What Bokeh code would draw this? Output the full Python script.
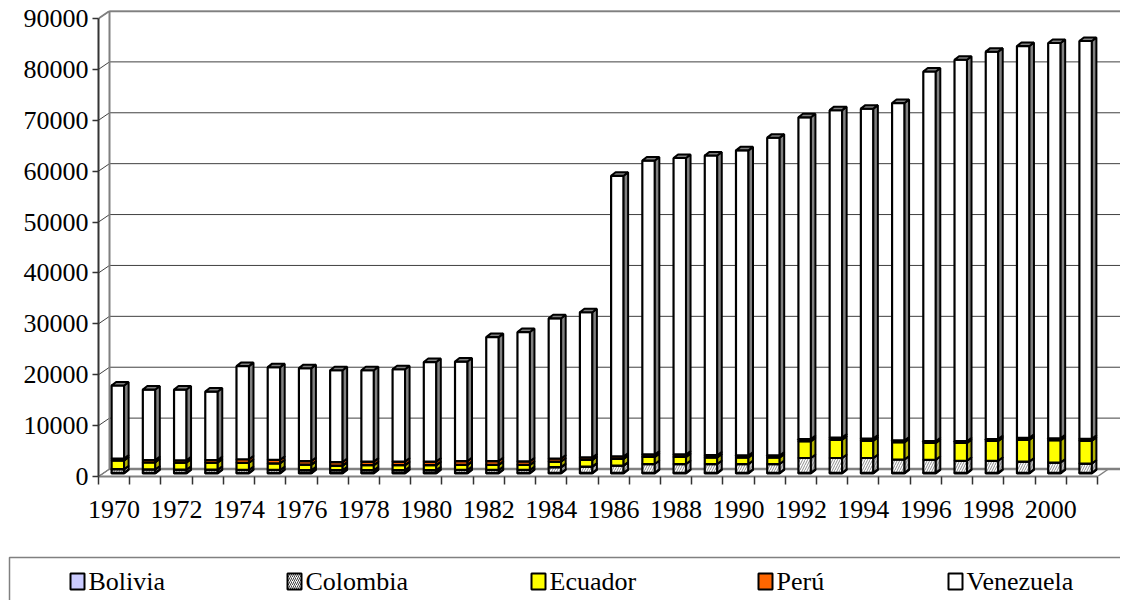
import numpy as np
from bokeh.plotting import figure
from bokeh.layouts import column
from bokeh.models import Range1d, FixedTicker, NumeralTickFormatter
from bokeh.core.properties import value
from bokeh.embed import file_html
from bokeh.resources import INLINE

# ---------------- data ----------------
years = list(range(1970, 2002))
bolivia = [150, 150, 150, 150, 150, 150, 150, 150, 150, 150, 150, 150, 150, 150, 150, 150,
           150, 150, 150, 150, 150, 150, 150, 150, 150, 150, 150, 150, 150, 150, 150, 150]
colombia = [700, 650, 600, 600, 550, 550, 500, 500, 500, 500, 500, 550, 550, 550, 1100, 1200,
            1400, 1700, 1700, 1700, 1700, 1700, 2900, 2900, 2900, 2600, 2550, 2350, 2350, 2200, 2000, 1800]
ecuador = [1700, 1400, 1400, 1400, 1400, 1300, 1100, 900, 1000, 1000, 1000, 1000, 1000, 1000, 1100, 1300,
           1300, 1400, 1400, 1300, 1300, 1300, 3300, 3600, 3400, 3400, 3300, 3500, 3900, 4300, 4400, 4500]
peru = [400, 450, 450, 500, 700, 700, 700, 700, 700, 700, 700, 750, 750, 700, 600, 500,
        500, 500, 500, 450, 400, 400, 400, 400, 400, 350, 350, 350, 350, 350, 350, 350]
venezuela = [14350, 13850, 13900, 13450, 18300, 18200, 18250, 18050, 17950, 18150, 19550, 19550,
             24350, 25400, 27550, 28550, 55150, 57750, 58250, 58900, 59950, 62450, 63250, 64350,
             64850, 66300, 72650, 74950, 76150, 77000, 77700, 78200]
series_names = ["Bolivia", "Colombia", "Ecuador", "Perú", "Venezuela"]
y_ticks = [0, 10000, 20000, 30000, 40000, 50000, 60000, 70000, 80000, 90000]
x_label_years = list(range(1970, 2001, 2))

# ---------------- styles ----------------
FONT = "Liberation Serif"
front_colors = ["#CCCCFF", "#FFFFFF", "#FFFF00", "#FF6600", "#FFFFFF"]
side_colors = ["#8F8FB3", "#C0C0C0", "#B3B300", "#B34700", "#808080"]
hatches = [None, "/", None, None, None]

W, H = 1120, 545
ML, MT, MB = 98, 10, 69
FW, FH = W - ML, H - MT - MB
n = len(years)
px_per_cat = 999.0 / n
x0 = -0.5
x1 = x0 + FW / px_per_cat
ymax_front = y_ticks[-1]
y1 = ymax_front * FH / 458.0
ux = (x1 - x0) / FW
uy = y1 / FH

p = figure(width=W, height=H, x_range=Range1d(x0, x1), y_range=Range1d(0, y1),
           output_backend="svg", toolbar_location=None,
           min_border_left=ML, min_border_right=0, min_border_top=MT, min_border_bottom=MB)
p.frame_align = False
p.outline_line_color = None
p.xgrid.visible = False
p.ygrid.visible = False
p.background_fill_color = "white"
p.border_fill_color = "white"

# walls
dxw, dyw = 11 * ux, 7.5 * uy
xb = x0 + dxw
p.segment(x0=[xb] * len(y_ticks), y0=[v + dyw for v in y_ticks],
          x1=[x1 + 1] * len(y_ticks), y1=[v + dyw for v in y_ticks],
          line_color="#404040", line_width=1)
p.segment(x0=[x0] * len(y_ticks), y0=y_ticks, x1=[xb] * len(y_ticks),
          y1=[v + dyw for v in y_ticks], line_color="#404040", line_width=1)
p.segment(x0=[xb], y0=[dyw], x1=[xb], y1=[ymax_front + dyw], line_color="#808080", line_width=2)
p.segment(x0=[xb], y0=[ymax_front + dyw], x1=[x1 + 1], y1=[ymax_front + dyw],
          line_color="#808080", line_width=2.5)
p.segment(x0=[x0], y0=[ymax_front], x1=[xb], y1=[ymax_front + dyw], line_color="#808080", line_width=2)
p.segment(x0=[x0], y0=[0], x1=[xb], y1=[dyw], line_color="#808080", line_width=1.5)
p.segment(x0=[n - 0.5], y0=[0], x1=[n - 0.5 + dxw], y1=[dyw], line_color="#808080", line_width=1.5)
p.segment(x0=[xb], y0=[dyw], x1=[x1 + 1], y1=[dyw], line_color="#808080", line_width=2.5)

# 3D stacked bars
c = np.arange(n, dtype=float)
xl = c - 2.5 * ux
xr = xl + 12.5 * ux
b0 = 3 * uy
ddx, ddy = 4.5 * ux, 3.5 * uy
cum = np.zeros(n)
for name, vals, fc, sc, h in zip(series_names, [bolivia, colombia, ecuador, peru, venezuela],
                                  front_colors, side_colors, hatches):
    v = np.array(vals, dtype=float)
    bot = cum + b0
    top = cum + v + b0
    hatch_kw = dict(hatch_pattern=h, hatch_color="#707070", hatch_scale=5, hatch_weight=0.8) if h else {}
    p.quad(left=xl, right=xr, bottom=bot, top=top, fill_color=fc, line_color="black",
           line_width=2.2, **hatch_kw)
    sxs = [[a, a + ddx, a + ddx, a] for a in xr]
    sys_ = [[b, b + ddy, t + ddy, t] for b, t in zip(bot, top)]
    p.patches(xs=sxs, ys=sys_, fill_color=sc, line_color="black", line_width=2, **hatch_kw)
    txs = [[a, b, b + ddx, a + ddx] for a, b in zip(xl, xr)]
    tys = [[t, t, t + ddy, t + ddy] for t in top]
    p.patches(xs=txs, ys=tys, fill_color=sc, line_color="black", line_width=2)
    cum = cum + v

# axes
xax = p.xaxis[0]
label_pos = [years.index(y) for y in x_label_years]
xax.ticker = FixedTicker(ticks=label_pos, minor_ticks=[i - 0.5 for i in range(n + 1)])
xax.major_label_overrides = {i: str(years[i]) for i in label_pos}
xax.bounds = (-0.5, n - 0.5)
xax.major_tick_out = 0
xax.major_tick_in = 0
xax.minor_tick_out = 8
xax.minor_tick_in = 0
xax.minor_tick_line_color = "#333333"
xax.minor_tick_line_width = 1.5
xax.axis_line_color = "#808080"
xax.axis_line_width = 2
xax.major_label_standoff = 16
xax.major_label_text_font = FONT
xax.major_label_text_font_size = "26px"
xax.major_label_text_color = "black"

yax = p.yaxis[0]
yax.ticker = FixedTicker(ticks=y_ticks)
yax.formatter = NumeralTickFormatter(format="0")
yax.bounds = (0, ymax_front)
yax.major_tick_out = 6
yax.major_tick_in = 0
yax.minor_tick_line_color = None
yax.major_tick_line_color = "#333333"
yax.major_tick_line_width = 1.5
yax.axis_line_color = "#333333"
yax.axis_line_width = 2
yax.major_label_standoff = 4
yax.major_label_text_font = FONT
yax.major_label_text_font_size = "26px"
yax.major_label_text_color = "black"

# legend panel
LH = 55
leg = figure(width=W, height=LH, x_range=Range1d(0, W), y_range=Range1d(0, LH),
             output_backend="svg", toolbar_location=None, min_border=0)
leg.frame_align = False
leg.axis.visible = False
leg.xgrid.visible = False
leg.ygrid.visible = False
leg.outline_line_color = None
leg.quad(left=[9], right=[W + 20], bottom=[-20], top=[LH - 12], fill_color="white",
         line_color="#808080", line_width=1.5)
sw_left = [70, 287, 531, 758, 948]
cy = LH - 36
for name, fc, h, sl in zip(series_names, front_colors, hatches, sw_left):
    hk = dict(hatch_pattern=h, hatch_color="#404040", hatch_scale=4, hatch_weight=1) if h else {}
    leg.quad(left=[sl], right=[sl + 14], bottom=[cy - 8], top=[cy + 8], fill_color=fc,
             line_color="black", line_width=2, **hk)
    leg.text(x=[sl + 18], y=[cy], text=[name], text_font=value(FONT), text_font_size=value("26px"),
             text_baseline="middle", text_align="left", text_color="black")

layout = column(p, leg, spacing=0)
open("out.html", "w").write(file_html(layout, INLINE))
